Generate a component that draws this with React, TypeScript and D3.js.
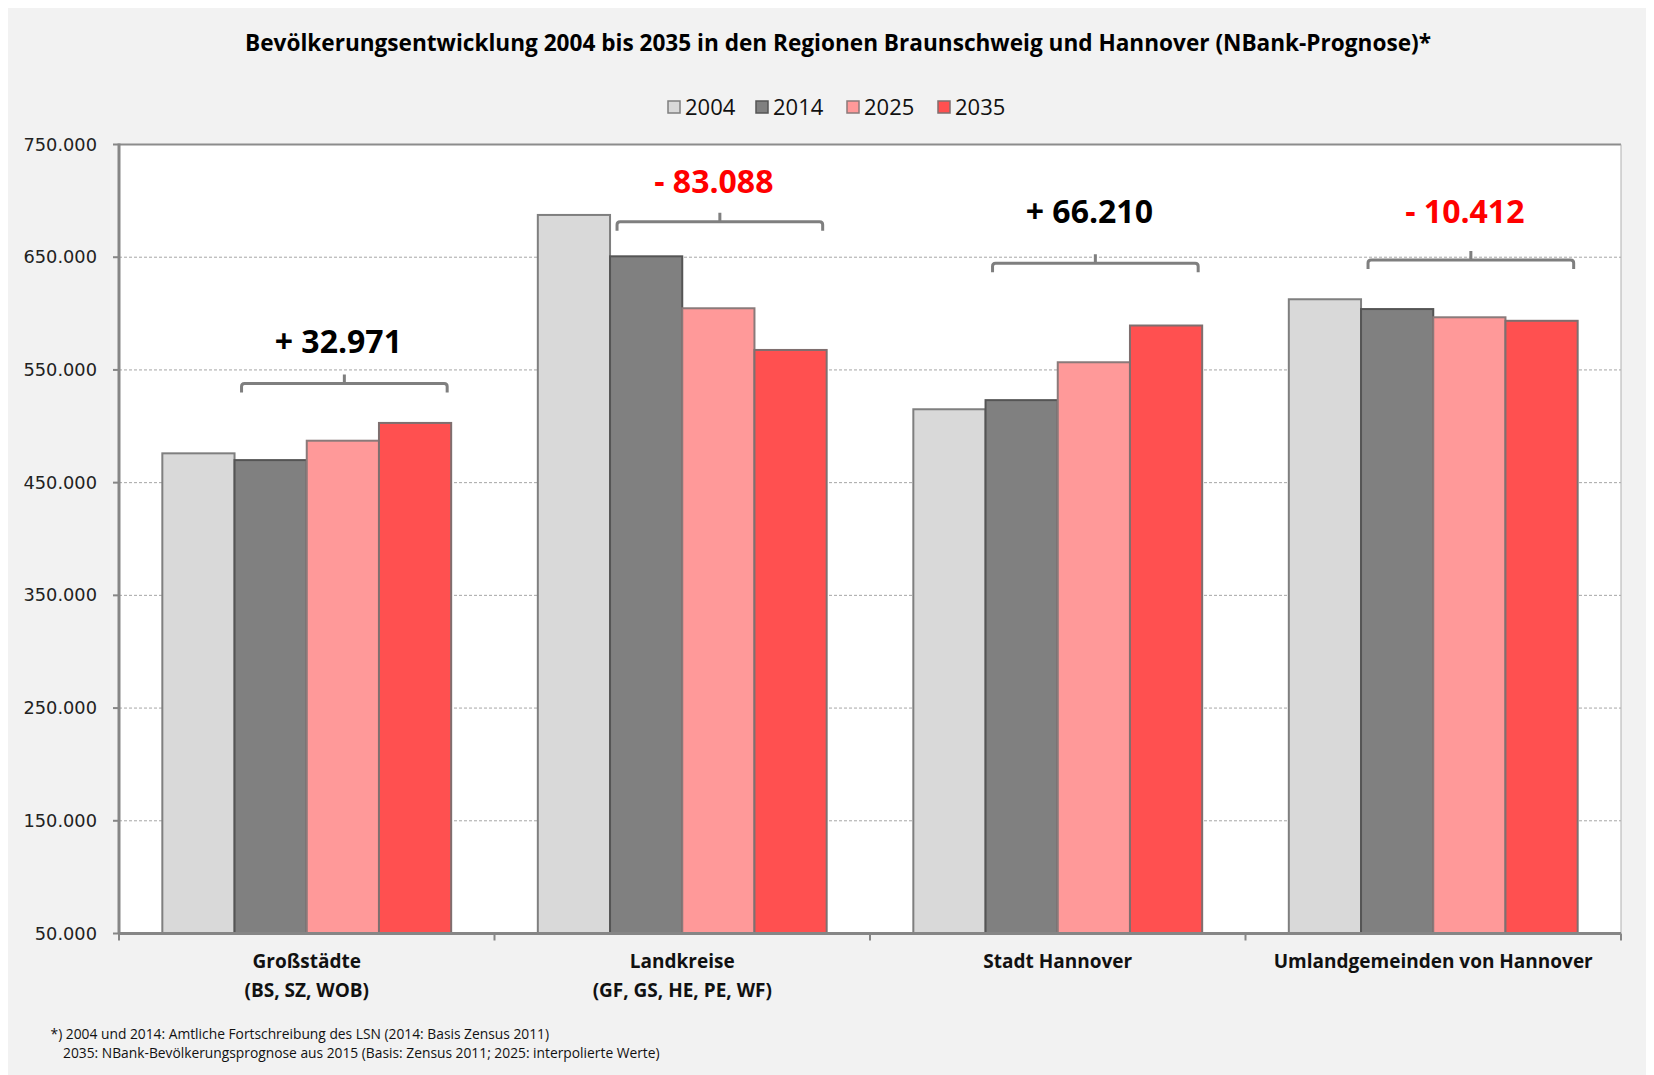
import React from "react";
import * as d3 from "d3";

// data
const years = ["2004", "2014", "2025", "2035"];
const categoryNames = ["Großstädte", "Landkreise", "Stadt Hannover", "Umlandgemeinden von Hannover"];
const categorySub = ["(BS, SZ, WOB)", "(GF, GS, HE, PE, WF)", "", ""];
const v2004 = [476000, 687500, 515100, 612700];
const v2014 = [470000, 650800, 523200, 604000];
const v2025 = [487200, 604700, 556800, 596700];
const v2035 = [502971, 567712, 589410, 593588];
const changeLabels = ["+ 32.971", "- 83.088", "+ 66.210", "- 10.412"];
const bracketLevel = [538000, 681500, 644600, 647500];
const labelLevel = [564800, 706700, 680100, 680100];
const yTicks = [50000, 150000, 250000, 350000, 450000, 550000, 650000, 750000];
const footnotes = [
  "*) 2004 und 2014: Amtliche Fortschreibung des LSN (2014: Basis Zensus 2011)",
  "2035: NBank-Bevölkerungsprognose aus 2015 (Basis: Zensus 2011; 2025: interpolierte Werte)",
];

const seriesValues = [v2004, v2014, v2025, v2035];
const colors = ["#d9d9d9", "#808080", "#ff9999", "#ff5050"];
const strokes = ["#7f7f7f", "#555555", "#8a7a7a", "#7f6f6f"];

const W = 1638;
const H = 1067;
const m = { left: 111, right: 1613, top: 136.5, bottom: 925.5 };
const font = "'Open Sans', 'Noto Sans', sans-serif";

const de = d3.formatLocale({ decimal: ",", thousands: ".", grouping: [3], currency: ["", "€"] });
const fmt = de.format(",");

export default function App() {
  const x = d3.scaleBand().domain(categoryNames).range([m.left, m.right]).padding(0);
  const xi = d3.scaleBand().domain(years).range([0, x.bandwidth()]).paddingInner(0).paddingOuter(0.6);
  const y = d3.scaleLinear().domain([50000, 750000]).range([m.bottom, m.top]);

  const legendX = [660, 748, 839, 930];

  return (
    <svg width={W} height={H} style={{ position: "absolute", left: 8, top: 8, display: "block" }}>
      <rect x={0} y={0} width={W} height={H} fill="#f2f2f2" />
      <rect x={m.left} y={m.top} width={m.right - m.left} height={m.bottom - m.top} fill="#fff" />

      <text x={830} y={43} textAnchor="middle" fontFamily={font} fontWeight="bold" fontSize={22.6} fill="#000">
        Bevölkerungsentwicklung 2004 bis 2035 in den Regionen Braunschweig und Hannover (NBank-Prognose)*
      </text>

      {/* legend */}
      <g>
        {years.map((yr, i) => (
          <g key={yr}>
            <rect x={legendX[i]} y={93} width={12} height={12} fill={colors[i]} stroke={strokes[i]} strokeWidth={1.5} />
            <text x={legendX[i] + 17} y={107} fontFamily={font} fontSize={22} fill="#111">{yr}</text>
          </g>
        ))}
      </g>

      {/* gridlines */}
      <g>
        {yTicks.filter(t => t > 50000 && t < 750000).map(t => (
          <line key={t} x1={m.left} x2={m.right} y1={y(t)} y2={y(t)} stroke="#a6a6a6" strokeWidth={1} strokeDasharray="3,2" />
        ))}
      </g>

      {/* plot border top/right */}
      <line x1={m.left} x2={m.right} y1={m.top} y2={m.top} stroke="#8c8c8c" strokeWidth={2} />
      <line x1={m.right} x2={m.right} y1={m.top} y2={m.bottom} stroke="#b0b0b0" strokeWidth={1} />

      {/* bars */}
      <g>
        {categoryNames.map((c, ci) => (
          <g key={c} transform={`translate(${x(c)},0)`}>
            {years.map((yr, si) => {
              const v = seriesValues[si][ci];
              return (
                <rect
                  key={yr}
                  x={xi(yr)}
                  y={y(v)}
                  width={xi.bandwidth()}
                  height={y(50000) - y(v)}
                  fill={colors[si]}
                  stroke={strokes[si]}
                  strokeWidth={2}
                />
              );
            })}
          </g>
        ))}
      </g>

      {/* y axis */}
      <g>
        <line x1={m.left} x2={m.left} y1={m.top - 1} y2={m.bottom} stroke="#868686" strokeWidth={3} />
        {yTicks.map(t => (
          <g key={t}>
            <line x1={m.left - 6} x2={m.left} y1={y(t)} y2={y(t)} stroke="#868686" strokeWidth={2} />
            <text x={89} y={y(t) + 6} textAnchor="end" fontFamily="'DejaVu Sans', Verdana, sans-serif" fontSize={17.8} fill="#222">
              {fmt(t)}
            </text>
          </g>
        ))}
      </g>

      {/* x axis */}
      <g>
        <line x1={m.left} x2={m.right} y1={m.bottom} y2={m.bottom} stroke="#868686" strokeWidth={3} />
        {[...categoryNames.map(c => x(c) as number), m.right].map((px, i) => (
          <line key={i} x1={px} x2={px} y1={m.bottom} y2={m.bottom + 7} stroke="#868686" strokeWidth={2} />
        ))}
        {categoryNames.map((c, ci) => {
          const cx = (x(c) as number) + x.bandwidth() / 2;
          return (
            <g key={c} fontFamily={font} fontWeight="bold" fontSize={19} fill="#111" textAnchor="middle">
              <text x={cx} y={960}>{c}</text>
              {categorySub[ci] && <text x={cx} y={989}>{categorySub[ci]}</text>}
            </g>
          );
        })}
      </g>

      {/* change brackets */}
      <g>
        {categoryNames.map((c, ci) => {
          const gx = x(c) as number;
          const x0 = gx + (xi("2014") as number) + 7;
          const x1 = gx + (xi("2035") as number) + xi.bandwidth() - 4;
          const xc = (x0 + x1) / 2;
          const by = y(bracketLevel[ci]);
          const neg = changeLabels[ci].startsWith("-");
          const path = `M${x0},${by + 9} L${x0},${by + 3} Q${x0},${by} ${x0 + 3},${by} L${x1 - 3},${by} Q${x1},${by} ${x1},${by + 3} L${x1},${by + 9} M${xc},${by} L${xc},${by - 9}`;
          return (
            <g key={c}>
              <path d={path} fill="none" stroke="#7f7f7f" strokeWidth={3} />
              <text x={xc - 6} y={y(labelLevel[ci])} textAnchor="middle" fontFamily={font} fontWeight="bold" fontSize={32} fill={neg ? "#ff0000" : "#000"}>
                {changeLabels[ci]}
              </text>
            </g>
          );
        })}
      </g>

      {/* footnote */}
      <g fontFamily={font} fontSize={13.8} fill="#111">
        <text x={42.6} y={1031}>{footnotes[0]}</text>
        <text x={55} y={1050}>{footnotes[1]}</text>
      </g>
    </svg>
  );
}
